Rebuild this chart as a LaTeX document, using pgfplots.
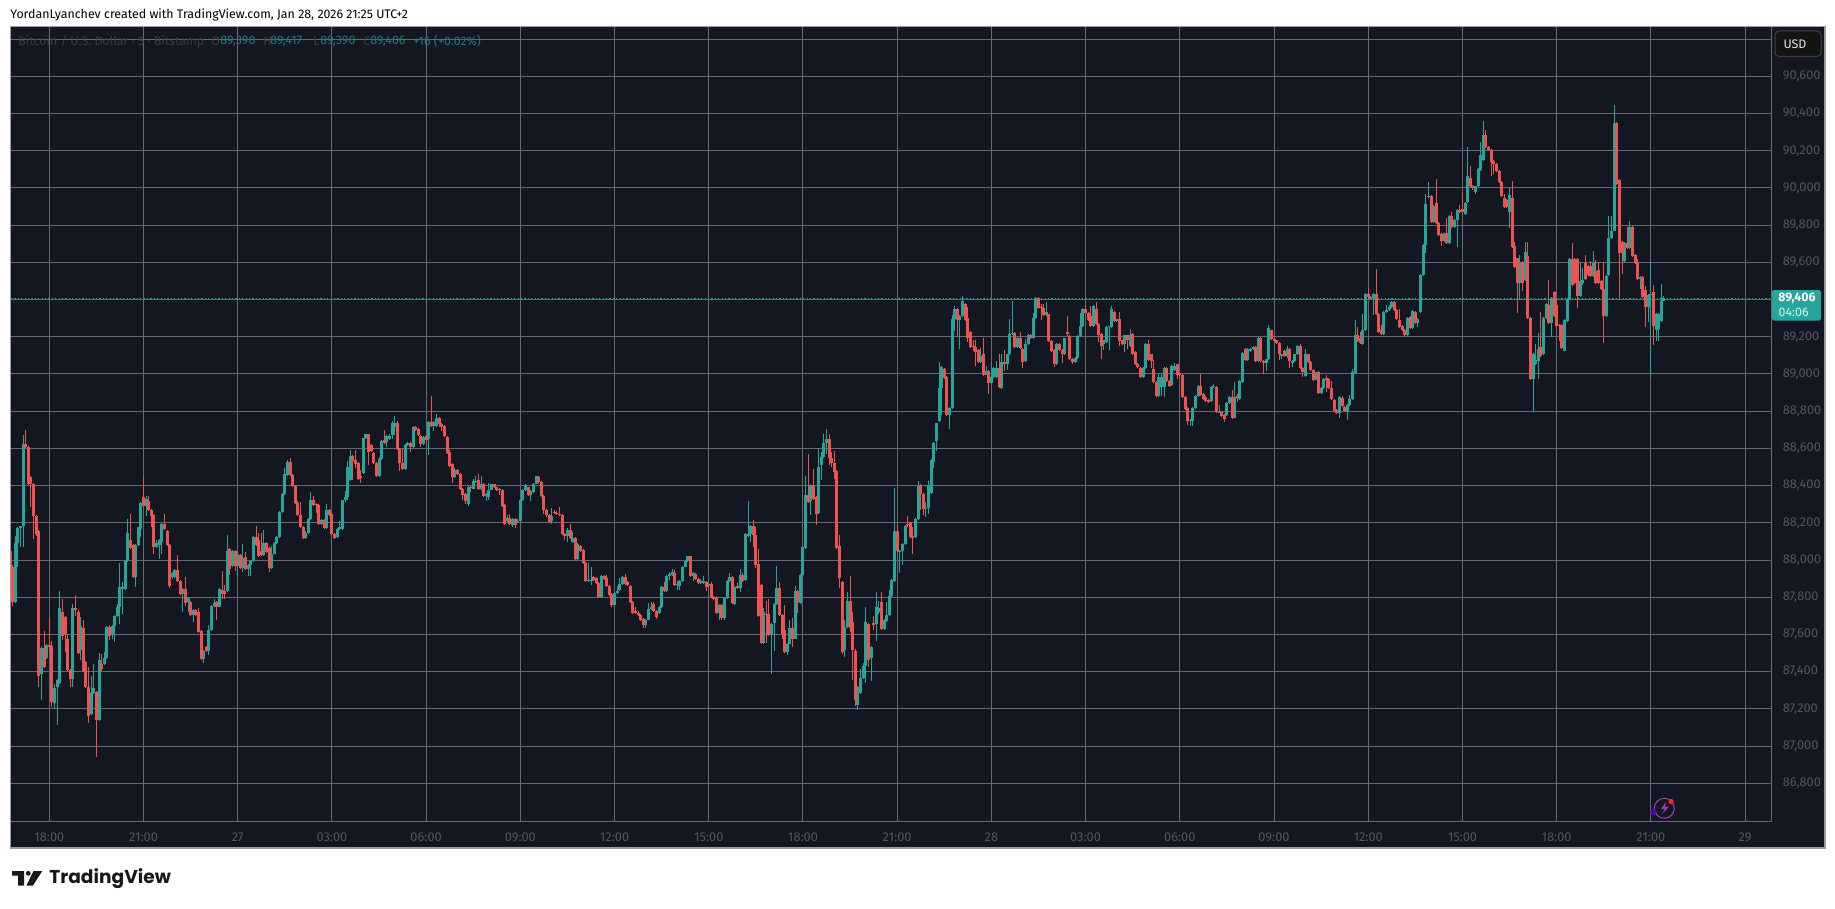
\documentclass[border=0pt]{standalone}
\usepackage{fontspec}
\setmainfont{Fira Sans}
\newfontfamily\logofont{Poppins}
\usepackage{pgfplots}
\usepackage{pgfplotstable}
\pgfplotsset{compat=1.18}
\usetikzlibrary{calc}
\definecolor{bg}{HTML}{131722}
\definecolor{gridc}{HTML}{676872}
\definecolor{framec}{HTML}{9A9CA3}
\definecolor{up}{HTML}{26A69A}
\definecolor{down}{HTML}{EF5350}
\definecolor{labelc}{HTML}{54565F}
\definecolor{titlec}{HTML}{3A3D47}
\definecolor{iconc}{HTML}{A63FB5}

% i open high low close (5 min candles, i=0 is 18:00 on the 26th)
\pgfplotstableread{
i o h l c
-15 88050 88060 87960 87965
-14 87965 87975 87755 87775
-13 87775 88130 87770 88090
-12 88090 88175 87960 88170
-11 88170 88185 88070 88185
-10 88185 88670 88070 88625
-9 88625 88700 88600 88605
-8 88605 88615 88405 88410
-7 88445 88450 88285 88410
-6 88410 88415 88115 88235
-5 88235 88240 88130 88140
-4 88155 88160 87320 87375
-3 87385 87540 87250 87525
-2 87525 87620 87420 87425
-1 87475 87550 87470 87545
0 87545 87690 87500 87535
1 87540 87565 87210 87235
2 87230 87335 87200 87310
3 87315 87360 87115 87355
4 87340 87835 87335 87740
5 87720 87790 87570 87590
6 87695 87700 87505 87600
7 87575 87600 87405 87410
8 87410 87415 87320 87360
9 87360 87765 87320 87740
10 87740 87810 87700 87730
11 87720 87730 87495 87500
12 87515 87695 87465 87645
13 87635 87675 87400 87405
14 87450 87455 87315 87320
15 87320 87425 87125 87160
16 87170 87375 87165 87285
17 87285 87440 87280 87310
18 87290 87295 86940 87140
19 87140 87500 87135 87460
20 87440 87495 87405 87415
21 87440 87505 87435 87475
22 87475 87645 87470 87640
23 87640 87650 87570 87590
24 87600 87650 87575 87645
25 87645 87705 87560 87700
26 87700 87765 87695 87745
27 87750 87985 87655 87855
28 87845 87880 87710 87853
29 87845 88000 87840 87995
30 87995 88220 87990 88145
31 88110 88250 88060 88065
32 88080 88085 87905 87910
33 87910 88085 87855 88080
34 88080 88180 88075 88175
35 88165 88310 88125 88305
36 88340 88445 88285 88290
37 88290 88345 88235 88330
38 88315 88345 88265 88270
39 88270 88275 88175 88235
40 88240 88245 88030 88070
41 88070 88110 88065 88090
42 88080 88115 88005 88110
43 88095 88200 88030 88195
44 88195 88245 88160 88165
45 88155 88160 88075 88080
46 88080 88085 87850 87860
47 87907 87935 87900 87930
48 87910 87950 87905 87945
49 87945 88025 87880 87885
50 87885 87890 87815 87820
51 87820 87850 87720 87845
52 87845 87910 87755 87770
53 87775 87800 87720 87795
54 87775 87780 87700 87705
55 87705 87735 87665 87730
56 87730 87735 87700 87705
57 87720 87740 87610 87615
58 87620 87625 87465 87470
59 87470 87515 87445 87510
60 87530 87540 87505 87510
61 87510 87650 87490 87625
62 87625 87760 87620 87755
63 87755 87790 87750 87770
64 87775 87780 87680 87745
65 87750 87850 87745 87845
66 87840 87940 87790 87820
67 87835 87865 87790 87818
68 87835 88135 87830 88050
69 88060 88065 87920 87950
70 87970 88055 87965 88050
71 88050 88055 87940 87970
72 87970 88050 87915 88030
73 88025 88030 87950 87955
74 87955 88085 87935 88010
75 88015 88045 87945 87950
76 87950 87980 87915 87975
77 87975 88000 87915 87995
78 87995 88130 87990 88125
79 88125 88185 88075 88080
80 88105 88145 88015 88020
81 88050 88145 88020 88025
82 88025 88160 88020 88090
83 88090 88095 88040 88045
84 88065 88070 87935 87955
85 87955 88075 87950 88035
86 88035 88095 88030 88090
87 88090 88130 88085 88125
88 88125 88265 88120 88260
89 88260 88360 88255 88355
90 88355 88495 88350 88460
91 88455 88540 88450 88525
92 88525 88550 88450 88455
93 88455 88460 88395 88400
94 88400 88405 88300 88305
95 88309 88315 88240 88244
96 88244 88310 88175 88180
97 88180 88185 88115 88120
98 88120 88155 88115 88147
99 88147 88225 88140 88222
100 88222 88365 88215 88320
101 88320 88345 88288 88294
102 88300 88305 88255 88295
103 88298 88302 88190 88195
104 88195 88222 88190 88217
105 88217 88222 88167 88172
106 88172 88300 88165 88270
107 88270 88275 88240 88244
108 88250 88255 88135 88140
109 88140 88145 88112 88118
110 88123 88172 88118 88168
111 88168 88210 88162 88175
112 88168 88325 88162 88320
113 88320 88370 88312 88340
114 88340 88530 88320 88498
115 88430 88590 88425 88560
116 88560 88565 88430 88534
117 88537 88590 88495 88515
118 88519 88525 88433 88438
119 88450 88485 88415 88443
120 88470 88658 88465 88654
121 88654 88680 88650 88676
122 88676 88680 88510 88582
123 88620 88625 88580 88585
124 88577 88582 88518 88523
125 88523 88528 88446 88451
126 88451 88555 88446 88541
127 88541 88645 88536 88640
128 88645 88698 88622 88627
129 88636 88672 88605 88667
130 88650 88680 88645 88667
131 88672 88745 88650 88739
132 88717 88775 88672 88739
133 88739 88745 88590 88595
134 88595 88600 88478 88519
135 88523 88600 88484 88489
136 88489 88622 88484 88618
137 88618 88632 88612 88627
138 88627 88632 88583 88606
139 88606 88718 88600 88714
140 88714 88718 88693 88699
141 88705 88710 88667 88672
142 88667 88672 88610 88624
143 88624 88668 88618 88663
144 88667 88672 88632 88645
145 88651 88745 88565 88741
146 88741 88883 88716 88721
147 88721 88745 88695 88741
148 88721 88785 88716 88764
149 88764 88768 88714 88732
150 88732 88737 88696 88717
151 88721 88726 88662 88667
152 88661 88666 88572 88577
153 88582 88591 88503 88508
154 88516 88520 88415 88447
155 88447 88492 88442 88483
156 88483 88488 88460 88465
157 88465 88470 88377 88382
158 88384 88389 88325 88348
159 88354 88359 88300 88316
160 88303 88397 88290 88393
161 88392 88396 88368 88386
162 88384 88433 88380 88426
163 88420 88450 88415 88426
164 88429 88460 88377 88382
165 88382 88450 88377 88411
166 88411 88416 88340 88345
167 88345 88359 88316 88354
168 88339 88415 88320 88379
169 88379 88411 88374 88406
170 88406 88411 88385 88390
171 88390 88395 88370 88375
172 88380 88385 88352 88375
173 88379 88384 88286 88291
174 88294 88299 88190 88195
175 88210 88240 88205 88228
176 88228 88245 88190 88195
177 88186 88226 88175 88222
178 88222 88227 88172 88190
179 88205 88220 88200 88212
180 88211 88330 88206 88325
181 88321 88380 88316 88375
182 88375 88407 88370 88402
183 88390 88395 88343 88348
184 88348 88378 88318 88372
185 88366 88412 88360 88408
186 88411 88453 88406 88449
187 88444 88449 88413 88418
188 88418 88423 88341 88346
189 88346 88351 88250 88267
190 88271 88276 88230 88244
191 88244 88249 88199 88204
192 88210 88278 88195 88235
193 88258 88270 88250 88252
194 88255 88262 88245 88249
195 88250 88285 88238 88244
196 88244 88249 88136 88141
197 88141 88146 88110 88129
198 88129 88170 88095 88163
199 88163 88195 88113 88118
200 88096 88150 88090 88120
201 88120 88125 87999 88004
202 88004 88092 87999 88087
203 88075 88080 88046 88051
204 88055 88060 87980 87985
205 87985 87990 87881 87886
206 87885 87985 87880 87890
207 87885 87960 87865 87890
208 87907 87912 87885 87890
209 87904 87909 87870 87875
210 87875 87880 87798 87803
211 87803 87921 87798 87916
212 87916 87922 87890 87900
213 87902 87922 87854 87859
214 87859 87864 87809 87814
215 87817 87822 87750 87756
216 87756 87828 87751 87823
217 87823 87860 87818 87832
218 87841 87905 87836 87871
219 87871 87915 87866 87911
220 87911 87925 87866 87871
221 87880 87885 87859 87864
222 87860 87865 87767 87772
223 87776 87781 87708 87713
224 87727 87750 87708 87713
225 87713 87727 87697 87702
226 87706 87711 87675 87680
227 87684 87689 87635 87652
228 87652 87684 87635 87680
229 87680 87770 87675 87736
230 87736 87775 87731 87749
231 87763 87775 87722 87727
232 87727 87732 87685 87695
233 87713 87753 87708 87749
234 87745 87861 87740 87857
235 87857 87880 87827 87832
236 87832 87918 87827 87914
237 87914 87935 87895 87925
238 87920 87950 87915 87933
239 87931 87945 87863 87868
240 87864 87888 87838 87870
241 87858 87893 87840 87889
242 87885 87969 87880 87965
243 87965 88001 87960 87997
244 87997 88023 87992 88019
245 88019 88023 87911 87916
246 87916 87934 87885 87929
247 87925 87930 87891 87896
248 87900 87905 87870 87875
249 87875 87900 87870 87885
250 87875 87912 87870 87885
251 87882 87887 87835 87853
252 87858 87876 87853 87871
253 87871 87880 87798 87803
254 87803 87808 87785 87790
255 87795 87807 87711 87716
256 87716 87763 87680 87759
257 87759 87763 87678 87691
258 87691 87800 87680 87795
259 87795 87890 87790 87885
260 87885 87930 87880 87911
261 87911 87915 87765 87770
262 87761 87862 87756 87857
263 87858 87875 87843 87850
264 87848 87950 87830 87921
265 87921 87932 87884 87889
266 87894 88146 87889 88141
267 88130 88316 88125 88141
268 88141 88186 88095 88181
269 88181 88214 88070 88137
270 88137 88180 87955 87975
271 87979 88060 87695 87700
272 87867 87872 87551 87556
273 87556 87740 87551 87722
274 87712 87780 87556 87705
275 87709 87790 87592 87597
276 87597 87660 87390 87655
277 87664 87767 87510 87763
278 87763 87970 87758 87849
279 87849 87880 87700 87705
280 87705 87710 87575 87601
281 87624 87760 87502 87507
282 87507 87556 87490 87551
283 87551 87680 87546 87633
284 87633 87688 87530 87578
285 87578 87858 87573 87835
286 87835 87840 87715 87777
287 87768 87926 87763 87921
288 87921 88074 87916 88069
289 88064 88450 88059 88348
290 88348 88570 88307 88312
291 88317 88407 88240 88402
292 88402 88490 88325 88330
293 88339 88344 88190 88245
294 88253 88600 88248 88499
295 88510 88580 88430 88553
296 88553 88677 88548 88627
297 88627 88703 88572 88650
298 88650 88677 88510 88546
299 88548 88578 88500 88519
300 88524 88585 88435 88474
301 88478 88483 88059 88064
302 88073 88135 87850 87902
303 87882 87887 87495 87507
304 87518 87675 87480 87641
305 87641 87828 87636 87781
306 87781 87915 87615 87637
307 87668 87720 87355 87516
308 87511 87520 87215 87246
309 87219 87323 87195 87318
310 87286 87412 87281 87367
311 87367 87445 87362 87430
312 87430 87750 87340 87668
313 87655 87660 87425 87464
314 87471 87537 87350 87532
315 87660 87700 87625 87652
316 87655 87828 87565 87745
317 87718 87780 87710 87741
318 87772 87828 87623 87628
319 87628 87683 87623 87678
320 87673 87775 87668 87705
321 87705 87840 87700 87808
322 87808 87899 87803 87894
323 87889 88385 87884 88154
324 88154 88195 88042 88047
325 88042 88052 87930 88050
326 88047 88092 87975 88087
327 88087 88189 88082 88184
328 88196 88235 88179 88190
329 88202 88207 88118 88123
330 88128 88175 88030 88120
331 88123 88227 88118 88222
332 88222 88425 88217 88402
333 88402 88407 88270 88353
334 88357 88362 88240 88274
335 88272 88310 88232 88280
336 88280 88425 88250 88402
337 88361 88542 88356 88537
338 88528 88632 88495 88627
339 88640 88736 88585 88736
340 88748 89067 88743 88925
341 88925 89045 88781 89040
342 89029 89034 88972 88977
343 88982 88987 88776 88781
344 88781 88822 88705 88817
345 88817 89315 88812 89294
346 89294 89364 89230 89348
347 89348 89353 89197 89288
348 89288 89317 89135 89312
349 89312 89418 89307 89393
350 89375 89380 89283 89288
351 89299 89358 89172 89195
352 89225 89230 89139 89144
353 89150 89185 89125 89144
354 89144 89185 89045 89116
355 89127 89132 89057 89062
356 89062 89139 89057 89099
357 89105 89195 88992 88997
358 88997 89045 88992 89018
359 89018 89023 88890 88950
360 88950 89065 88945 88982
361 88982 89037 88977 89033
362 88982 89068 88977 89033
363 89033 89110 88923 88928
364 88925 89110 88920 89062
365 89067 89130 89015 89051
366 89051 89110 89020 89105
367 89105 89295 89100 89216
368 89216 89390 89211 89222
369 89222 89227 89139 89144
370 89144 89200 89139 89195
371 89195 89225 89134 89139
372 89135 89140 89030 89063
373 89072 89186 89067 89162
374 89162 89216 89157 89211
375 89211 89216 89190 89195
376 89195 89330 89190 89299
377 89299 89416 89294 89411
378 89411 89416 89352 89357
379 89362 89375 89292 89355
380 89357 89375 89310 89315
381 89315 89385 89310 89332
382 89320 89325 89172 89177
383 89177 89182 89121 89126
384 89130 89135 89036 89054
385 89054 89167 89049 89162
386 89159 89164 89125 89130
387 89130 89135 89058 89108
388 89105 89196 89100 89191
389 89225 89310 89205 89215
390 89202 89207 89078 89083
391 89083 89088 89055 89062
392 89062 89092 89057 89087
393 89087 89207 89082 89202
394 89202 89330 89197 89256
395 89256 89353 89251 89348
396 89348 89372 89325 89330
397 89330 89335 89283 89288
398 89312 89365 89251 89256
399 89260 89369 89255 89364
400 89348 89385 89262 89267
401 89267 89272 89170 89207
402 89216 89221 89080 89153
403 89159 89185 89130 89180
404 89170 89257 89165 89252
405 89250 89258 89130 89256
406 89252 89365 89247 89348
407 89332 89337 89278 89283
408 89283 89298 89278 89294
409 89294 89332 89150 89175
410 89180 89185 89154 89159
411 89159 89212 89120 89207
412 89207 89212 89135 89180
413 89150 89240 89145 89210
414 89216 89221 89103 89108
415 89117 89122 89046 89051
416 89054 89059 89035 89040
417 89033 89038 88981 88986
418 88986 89038 88981 89033
419 89033 89167 89028 89162
420 89162 89185 89071 89076
421 89105 89110 89030 89072
422 89029 89075 88950 88955
423 88955 88960 88878 88883
424 88883 89000 88878 88982
425 88932 89000 88880 88982
426 88932 89038 88875 89033
427 89033 89038 88956 88961
428 88964 88969 88931 88936
429 88943 89050 88938 89045
430 89020 89058 89015 89045
431 89051 89056 88975 88993
432 88999 89004 88985 88993
433 88997 89002 88869 88874
434 88874 88879 88806 88811
435 88817 88822 88727 88745
436 88745 88757 88722 88753
437 88748 88822 88722 88817
438 88817 88887 88812 88882
439 88882 88941 88877 88936
440 88936 88998 88884 88889
441 88893 88898 88862 88866
442 88875 88880 88850 88855
443 88860 88865 88845 88850
444 88853 88933 88848 88928
445 88928 88945 88923 88933
446 88932 88937 88788 88793
447 88793 88835 88788 88798
448 88793 88798 88770 88775
449 88782 88787 88740 88758
450 88781 88847 88776 88842
451 88842 88883 88837 88878
452 88875 88915 88761 88766
453 88766 88958 88761 88875
454 88880 88895 88850 88872
455 88865 88969 88860 88964
456 88955 89119 88950 89114
457 89132 89137 89071 89076
458 89076 89140 89071 89135
459 89125 89137 89120 89135
460 89135 89148 89130 89144
461 89144 89149 89067 89072
462 89072 89200 89067 89195
463 89195 89200 89067 89072
464 89072 89077 89000 89058
465 89058 89078 89015 89078
466 89078 89262 89073 89245
467 89234 89239 89181 89186
468 89186 89191 89172 89177
469 89180 89185 89160 89165
470 89168 89173 89075 89105
471 89095 89110 89080 89105
472 89123 89128 89089 89094
473 89094 89150 89084 89135
474 89135 89140 89030 89072
475 89058 89074 89040 89072
476 89068 89110 89063 89105
477 89105 89155 89100 89150
478 89150 89159 89026 89031
479 89031 89036 88985 89010
480 88991 89135 88986 89105
481 89105 89110 89060 89066
482 89063 89068 89017 89022
483 89022 89027 88965 88970
484 88970 89013 88965 89009
485 89009 89014 88891 88896
486 88896 88930 88891 88925
487 88925 88978 88920 88973
488 88978 88993 88905 88970
489 88973 88978 88920 88925
490 88925 88960 88859 88864
491 88860 88865 88797 88802
492 88806 88811 88783 88788
493 88788 88883 88765 88878
494 88871 88880 88824 88829
495 88824 88829 88797 88802
496 88799 88840 88750 88835
497 88835 88885 88830 88865
498 88865 89027 88860 89013
499 89004 89292 88999 89207
500 89211 89254 89172 89177
501 89195 89225 89161 89166
502 89162 89324 89157 89234
503 89238 89437 89233 89432
504 89432 89468 89409 89414
505 89414 89419 89400 89405
506 89411 89437 89316 89432
507 89432 89562 89316 89321
508 89324 89329 89220 89225
509 89234 89262 89208 89213
510 89213 89338 89208 89333
511 89333 89370 89328 89346
512 89342 89370 89337 89360
513 89360 89391 89355 89386
514 89386 89391 89337 89342
515 89342 89347 89292 89297
516 89288 89350 89247 89252
517 89260 89265 89233 89238
518 89238 89243 89202 89207
519 89207 89308 89202 89303
520 89306 89311 89244 89249
521 89249 89342 89244 89337
522 89333 89338 89271 89276
523 89276 89300 89250 89297
524 89333 89536 89328 89531
525 89531 89698 89526 89693
526 89693 89965 89650 89915
527 89950 90030 89945 89958
528 89958 89963 89814 89819
529 89819 89909 89814 89904
530 89918 90050 89805 89810
531 89810 89815 89742 89747
532 89753 89758 89690 89715
533 89715 89760 89710 89756
534 89756 89838 89701 89706
535 89706 89855 89701 89850
536 89850 89873 89784 89789
537 89789 89833 89784 89828
538 89828 89887 89684 89882
539 89882 89910 89865 89870
540 89888 89975 89865 89870
541 89859 89923 89854 89918
542 89925 90222 89920 90066
543 90055 90120 90007 90012
544 90012 90017 89990 89998
545 89978 90013 89965 90008
546 90008 90107 90003 90102
547 90098 90245 90093 90175
548 90148 90360 90143 90287
549 90287 90310 90215 90220
550 90220 90225 90200 90206
551 90206 90211 90065 90138
552 90144 90149 90075 90131
553 90131 90136 90084 90089
554 90089 90094 90025 90030
555 90032 90037 89949 89954
556 89945 89970 89895 89900
557 89936 89941 89895 89900
558 89868 90000 89785 89962
559 89945 90035 89679 89684
560 89688 89708 89571 89576
561 89621 89626 89330 89490
562 89490 89640 89400 89602
563 89602 89607 89445 89490
564 89504 89708 89499 89654
565 89636 89708 89298 89303
566 89303 89308 88967 88972
567 88972 89113 88797 89108
568 89052 89160 89047 89075
569 89072 89220 88975 89132
570 89144 89335 89094 89099
571 89108 89308 89103 89303
572 89303 89380 89298 89375
573 89369 89505 89269 89274
574 89274 89416 89200 89411
575 89441 89446 89307 89312
576 89369 89410 89251 89256
577 89262 89267 89175 89256
578 89261 89266 89136 89141
579 89126 89293 89121 89288
580 89285 89410 89280 89405
581 89405 89623 89400 89618
582 89618 89705 89472 89477
583 89618 89623 89484 89489
584 89618 89623 89355 89418
585 89418 89600 89413 89499
586 89490 89570 89480 89503
587 89598 89640 89503 89508
588 89580 89585 89526 89531
589 89580 89605 89521 89526
590 89526 89660 89521 89598
591 89553 89615 89485 89490
592 89558 89600 89485 89490
593 89500 89505 89450 89455
594 89459 89600 89166 89310
595 89310 89531 89305 89526
596 89531 89850 89526 89729
597 89729 89850 89724 89771
598 89771 90444 89766 90350
599 90350 90355 90018 90023
600 90044 90049 89400 89648
601 89710 89715 89540 89648
602 89609 89711 89604 89706
603 89706 89790 89670 89675
604 89675 89820 89670 89789
605 89789 89794 89629 89634
606 89640 89645 89590 89595
607 89598 89620 89508 89513
608 89510 89527 89455 89522
609 89519 89524 89409 89414
610 89454 89472 89255 89360
611 89360 89428 89280 89423
612 89423 89600 88979 89430
613 89440 89478 89157 89256
614 89238 89326 89175 89321
615 89243 89326 89175 89321
616 89285 89483 89280 89393
617 89393 89417 89390 89406
}\candles

\begin{document}
\begin{tikzpicture}[x=0.5pt,y=-0.5pt,font=\fontsize{6.2}{7}\selectfont]
\fill[white] (0,0) rectangle (1835,909);
\fill[bg] (11,27) rectangle (1825,848);
\draw[framec,line width=0.6pt] (10.5,26.5) rectangle (1825,848);
\node[anchor=west,text=black,inner sep=0pt] at (10,14.5) {YordanLyanchev created with TradingView.com, Jan 28, 2026 21:25 UTC+2};

\begin{axis}[
  at={(5.5pt,-410.65pt)},anchor=south west,
  scale only axis,width=880.35pt,height=397.15pt,
  xmin=-14.64,xmax=658.2,ymin=86595.6,ymax=90865,
  clip=true,
  axis background/.style={fill=bg},
  axis line style={color=gridc,line width=0.5pt},
  axis x line*=bottom, axis y line*=right,
  major tick length=0pt,
  grid=major,grid style={color=gridc,line width=0.5pt},
  xtick={0,36,...,648},
  xticklabels={18:00,21:00,27,03:00,06:00,09:00,12:00,15:00,18:00,21:00,28,03:00,06:00,09:00,12:00,15:00,18:00,21:00,29},
  ytick={86800,87000,...,90800},
  scaled y ticks=false,
  % 89,400 and 90,800 sit under the price tag and the USD box
  yticklabels={{86,800},{87,000},{87,200},{87,400},{87,600},{87,800},{88,000},{88,200},{88,400},{88,600},{88,800},{89,000},{89,200},{},{89,600},{89,800},{90,000},{90,200},{90,400},{90,600},{}},
  yticklabel pos=right,
  tick label style={text=labelc,font=\fontsize{6.4}{7}\selectfont},
  xticklabel style={yshift=-2pt},
  yticklabel style={xshift=2pt},
  unbounded coords=discard,
]
% green wicks and bodies
\addplot[draw=none,no markers,forget plot,error bars/.cd,y dir=both,y explicit,error mark=none,error bar style={color=up,line width=0.5pt}]
  table[x expr={\thisrow{c}>=\thisrow{o}?\thisrow{i}:nan},y=c,y error plus expr=\thisrow{h}-\thisrow{c},y error minus expr=\thisrow{c}-\thisrow{l}] {\candles};
\addplot[draw=none,no markers,forget plot,error bars/.cd,y dir=plus,y explicit,error mark=none,error bar style={color=up,line width=1.5pt}]
  table[x expr={\thisrow{c}>=\thisrow{o}?\thisrow{i}:nan},y=o,y error plus expr=\thisrow{c}-\thisrow{o}] {\candles};
% red wicks and bodies
\addplot[draw=none,no markers,forget plot,error bars/.cd,y dir=both,y explicit,error mark=none,error bar style={color=down,line width=0.5pt}]
  table[x expr={\thisrow{c}<\thisrow{o}?\thisrow{i}:nan},y=c,y error plus expr=\thisrow{h}-\thisrow{c},y error minus expr=\thisrow{c}-\thisrow{l}] {\candles};
\addplot[draw=none,no markers,forget plot,error bars/.cd,y dir=plus,y explicit,error mark=none,error bar style={color=down,line width=1.5pt}]
  table[x expr={\thisrow{c}<\thisrow{o}?\thisrow{i}:nan},y=c,y error plus expr=\thisrow{o}-\thisrow{c}] {\candles};
% last price line
\addplot[color=up,line width=0.6pt,dash pattern=on 0.6pt off 1.1pt,forget plot] coordinates {(-14.64,89406) (658.2,89406)};
\end{axis}

% header legend
\node[anchor=west,text=titlec,inner sep=0pt,font=\fontsize{6.2}{7}\selectfont] at (18,41.5) {Bitcoin / U.S. Dollar · 5 · Bitstamp};
\node[anchor=west,text=titlec,inner sep=0pt,font=\fontsize{6.2}{7}\selectfont] at (211,41.5) {O};
\node[anchor=west,text=titlec,inner sep=0pt,font=\fontsize{6.2}{7}\selectfont] at (263,41.5) {H};
\node[anchor=west,text=titlec,inner sep=0pt,font=\fontsize{6.2}{7}\selectfont] at (313,41.5) {L};
\node[anchor=west,text=titlec,inner sep=0pt,font=\fontsize{6.2}{7}\selectfont] at (363,41.5) {C};
\node[anchor=west,text=up!75!black,inner sep=0pt,font=\fontsize{6.2}{7}\selectfont] at (220,41.5) {89,390};
\node[anchor=west,text=up!75!black,inner sep=0pt,font=\fontsize{6.2}{7}\selectfont] at (270,41.5) {89,417};
\node[anchor=west,text=up!75!black,inner sep=0pt,font=\fontsize{6.2}{7}\selectfont] at (320,41.5) {89,390};
\node[anchor=west,text=up!75!black,inner sep=0pt,font=\fontsize{6.2}{7}\selectfont] at (370,41.5) {89,406};
\node[anchor=west,text=up!75!black,inner sep=0pt,font=\fontsize{6.2}{7}\selectfont] at (413,41.5) {+16 (+0.02\%)};

% USD box and last price tag
\draw[fill=black!92,draw=black!75,line width=0.5pt,rounded corners=2pt] (1775,31) rectangle (1821,56.5);
\node[text=white!90!black,inner sep=0pt,font=\fontsize{6.2}{7}\selectfont] at (1795,44.5) {USD};
\fill[up,rounded corners=0.8pt] (1772,290) rectangle (1821,320.5);
\node[anchor=east,text=white,inner sep=0pt,font=\bfseries\fontsize{6.2}{7}\selectfont] at (1816,298) {89,406};
\node[anchor=east,text=white!85!up,inner sep=0pt,font=\fontsize{6.2}{7}\selectfont] at (1809,312) {04:06};

% bolt icon near the time axis
\draw[iconc,line width=0.5pt] (1664.3,808.3) circle[radius=10];
\fill[iconc] (1666,802) -- (1661,809) -- (1665,808.5) -- (1662,814) -- (1669,806.5) -- (1665,807) -- cycle;
\fill[red!85!white] (1671,801.5) circle[radius=2.7];
\fill[violet!70!blue] (1653.5,807) -- (1655,810.5) -- (1658.5,812) -- (1655,813.5) -- (1653.5,817) -- (1652,813.5) -- (1648.5,812) -- (1652,810.5) -- cycle;

% TradingView logo
\fill[black!90] (12,871) -- (24,871) -- (24,885.5) -- (18,885.5) -- (18,875.5) -- (12,875.5) -- cycle;
\fill[black!90] (28.3,873.3) circle[radius=2.4];
\fill[black!90] (33.5,871) -- (42.3,871) -- (33,885.5) -- (26.5,885.5) -- cycle;
\node[anchor=west,text=black!90,inner sep=0pt,font=\logofont\bfseries\fontsize{9.3}{11}\selectfont] at (49,879) {TradingView};
\end{tikzpicture}
\end{document}
